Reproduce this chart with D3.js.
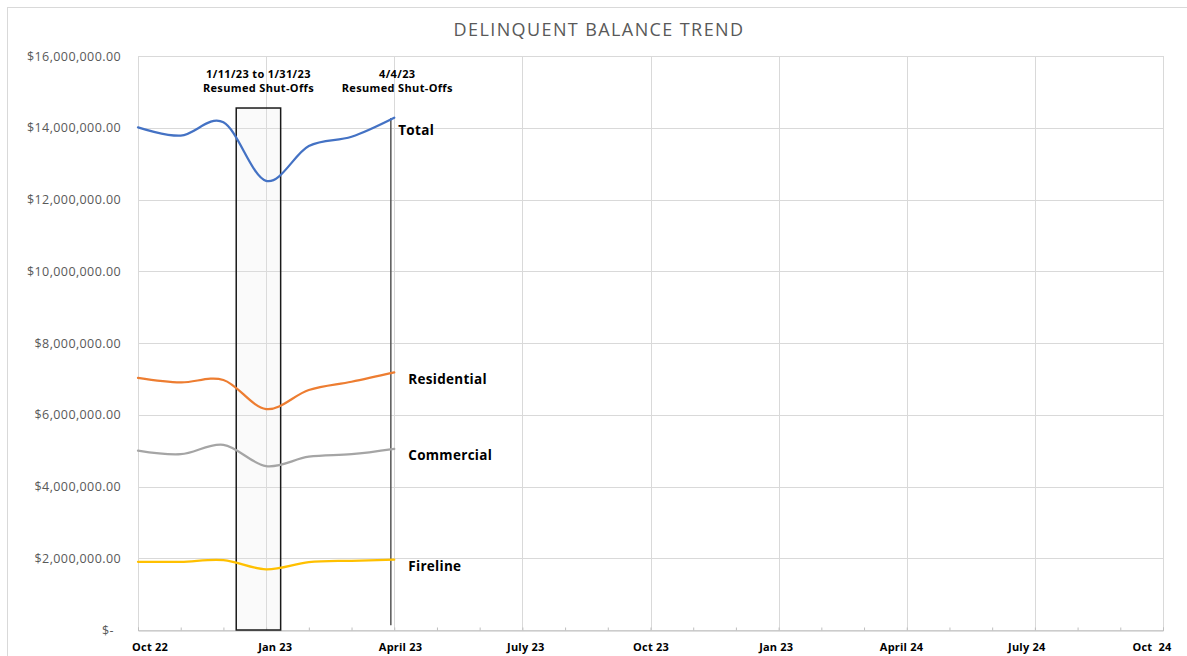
<!DOCTYPE html>
<html>
<head>
<meta charset="utf-8">
<script src="https://cdn.jsdelivr.net/npm/d3@7"></script>
<style>
  body { margin: 0; background: #fff; }
  svg { display: block; font-family: "Open Sans", Lato, sans-serif; }
  .grid line { stroke: #d9d9d9; stroke-width: 1; }
  .y-label { fill: #595959; font-size: 12.5px; letter-spacing: 0.4px; }
  .x-label { fill: #000; font-size: 11px; font-weight: 700; letter-spacing: 0.2px; }
  .note { fill: #000; font-size: 11px; font-weight: 700; letter-spacing: 0.35px; }
  .series-label { fill: #000; font-size: 13.5px; font-weight: 700; letter-spacing: 0.3px; }
</style>
</head>
<body>
<svg id="chart" width="1187" height="656"></svg>
<script>
// monthly points, index 0 = Oct 22 (axis runs Oct 22 .. Oct 24)
var months = ["Oct 22", "Nov 22", "Dec 22", "Jan 23", "Feb 23", "Mar 23", "Apr 23"];
var totalBal = [14010000, 13780000, 14150000, 12520000, 13490000, 13750000, 14280000];
var residentialBal = [7030000, 6900000, 6970000, 6160000, 6690000, 6920000, 7180000];
var commercialBal = [5000000, 4900000, 5160000, 4570000, 4830000, 4900000, 5050000];
var firelineBal = [1900000, 1900000, 1950000, 1690000, 1890000, 1930000, 1960000];

var seriesNames = ["Total", "Residential", "Commercial", "Fireline"];
var seriesColors = ["#4472c4", "#ed7d31", "#a5a5a5", "#ffc000"];

var xTickLabels = ["Oct 22", "Jan 23", "April 23", "July 23", "Oct 23", "Jan 23", "April 24", "July 24", "Oct  24"];
var yTicks = [0, 2000000, 4000000, 6000000, 8000000, 10000000, 12000000, 14000000, 16000000];

// shut-off annotations (month index on the x axis)
var shutoffWindow = {from: 2.3, to: 3.34, top: 14550000, lines: ["1/11/23 to 1/31/23", "Resumed Shut-Offs"]};
var shutoffMarker = {at: 5.92, from: 130000, to: 14270000, lines: ["4/4/23", "Resumed Shut-Offs"]};

var svg = d3.select("#chart");
var plot = {left: 138, right: 1163, top: 56, bottom: 630};

var x = d3.scaleLinear().domain([0, 24]).range([plot.left, plot.right]);
var xLabelPos = d3.scaleLinear().domain([0, 24]).range([plot.left + 12, plot.right - 11]);
var y = d3.scaleLinear().domain([0, 16000000]).range([plot.bottom, plot.top]);

//outer chart border
svg.append("rect")
   .attr("x", 7.5).attr("y", 7.5)
   .attr("width", 1200).attr("height", 700)
   .attr("fill", "none").attr("stroke", "#d9d9d9");

//title
svg.append("text")
   .attr("x", 599).attr("y", 36)
   .attr("text-anchor", "middle")
   .attr("fill", "#595959")
   .style("font-size", "18px")
   .style("font-weight", 400)
   .style("letter-spacing", "1.4px")
   .text("DELINQUENT BALANCE TREND");

//horizontal gridlines
var grid = svg.append("g").attr("class", "grid");
grid.selectAll("line.h")
   .data(yTicks)
   .enter()
   .append("line")
   .attr("class", "h")
   .attr("x1", plot.left).attr("x2", plot.right)
   .attr("y1", function(d){ return Math.round(y(d)) + 0.5; })
   .attr("y2", function(d){ return Math.round(y(d)) + 0.5; });

//vertical gridlines every 3 months
var quarterIdx = d3.range(0, 25, 3);
grid.selectAll("line.v")
   .data(quarterIdx)
   .enter()
   .append("line")
   .attr("class", "v")
   .attr("x1", function(d){ return Math.round(x(d)) + 0.5; })
   .attr("x2", function(d){ return Math.round(x(d)) + 0.5; })
   .attr("y1", plot.top).attr("y2", plot.bottom);

//x axis line + monthly minor ticks (inside)
var xAxis = d3.axisBottom(x).tickValues(d3.range(0, 25)).tickSize(-3).tickFormat("");
var xg = svg.append("g")
   .attr("transform", "translate(0," + (plot.bottom + 0.5) + ")")
   .call(xAxis);
xg.select(".domain").attr("stroke", "#bfbfbf");
xg.selectAll(".tick line").attr("stroke", "#bfbfbf");

//y labels
svg.selectAll("text.y-label")
   .data(yTicks)
   .enter()
   .append("text")
   .attr("class", "y-label")
   .attr("text-anchor", "end")
   .attr("x", function(d){ return d === 0 ? 114 : 121; })
   .attr("y", function(d){ return y(d) + 4.5; })
   .text(function(d){ return d === 0 ? "$-" : d3.format("$,.2f")(d); });

//x labels
svg.selectAll("text.x-label")
   .data(xTickLabels)
   .enter()
   .append("text")
   .attr("class", "x-label")
   .attr("text-anchor", "middle")
   .attr("x", function(d, i){ return xLabelPos(i * 3); })
   .attr("y", 651)
   .text(function(d){ return d; })
   .style("white-space", "pre");

//shut-off window box
svg.append("rect")
   .attr("x", x(shutoffWindow.from))
   .attr("y", y(shutoffWindow.top))
   .attr("width", x(shutoffWindow.to) - x(shutoffWindow.from))
   .attr("height", y(0) - y(shutoffWindow.top))
   .attr("fill", "#e8e8e8").attr("fill-opacity", 0.2)
   .attr("stroke", "#1a1a1a").attr("stroke-width", 1.5);

//4/4/23 marker line
svg.append("line")
   .attr("x1", x(shutoffMarker.at)).attr("x2", x(shutoffMarker.at))
   .attr("y1", y(shutoffMarker.to)).attr("y2", y(shutoffMarker.from))
   .attr("stroke", "#555").attr("stroke-width", 1.5);

//annotation texts
function drawNote(lines, cx){
   svg.selectAll(null)
      .data(lines)
      .enter()
      .append("text")
      .attr("class", "note")
      .attr("text-anchor", "middle")
      .attr("x", cx)
      .attr("y", function(d, i){ return 78 + i * 13.5; })
      .text(function(d){ return d; });
}
drawNote(shutoffWindow.lines, (x(shutoffWindow.from) + x(shutoffWindow.to)) / 2);
drawNote(shutoffMarker.lines, x(6) + 3);

//series lines
var allSeries = [totalBal, residentialBal, commercialBal, firelineBal];
var line = d3.line()
   .x(function(d, i){ return x(i); })
   .y(function(d){ return y(d); })
   .curve(d3.curveCatmullRom.alpha(0));

svg.selectAll("path.series")
   .data(allSeries)
   .enter()
   .append("path")
   .attr("class", "series")
   .attr("d", line)
   .attr("fill", "none")
   .attr("stroke", function(d, i){ return seriesColors[i]; })
   .attr("stroke-width", 2.25)
   .attr("stroke-linecap", "round");

//series labels at the end of each line
svg.selectAll("text.series-label")
   .data(allSeries)
   .enter()
   .append("text")
   .attr("class", "series-label")
   .attr("x", function(d, i){ return x(d.length - 1) + (i === 0 ? 4 : 14); })
   .attr("y", function(d, i){ return y(d[d.length - 1]) + (i === 0 ? 17 : 11.5); })
   .text(function(d, i){ return seriesNames[i]; });
</script>
</body>
</html>
